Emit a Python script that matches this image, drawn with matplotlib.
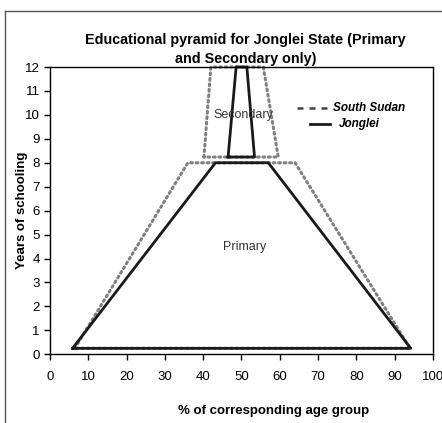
import matplotlib
matplotlib.use('Agg')
import matplotlib.pyplot as plt
from matplotlib.lines import Line2D

plt.rcParams['font.family'] = ['Liberation Sans', 'DejaVu Sans']

# Контуры пирамиды (x - % возрастной группы, y - годы обучения)
ss_primary_x = [6.5, 36, 64, 94, 6.5]
ss_primary_y = [0.25, 8, 8, 0.25, 0.25]
ss_secondary_x = [40.2, 42, 55.7, 59.6, 40.2]
ss_secondary_y = [8.24, 12, 12, 8.24, 8.24]

jg_primary_x = [5.9, 43.2, 57, 94.2, 5.9]
jg_primary_y = [0.25, 8, 8, 0.25, 0.25]
jg_secondary_x = [46.5, 48.6, 51.4, 53.4, 46.5]
jg_secondary_y = [8.24, 12, 12, 8.24, 8.24]

series_names = ['South Sudan', 'Jonglei']

fig = plt.figure(figsize=(4.42, 4.23), dpi=100)
ax = fig.add_axes([0.1131, 0.1624, 0.8665, 0.6792])

# South Sudan - серый пунктир
dots = (0, (0.6, 1.2))
ax.plot(ss_primary_x, ss_primary_y, color='#808080', lw=2.2,
        linestyle=dots, dash_capstyle='round', clip_on=False)
ax.plot(ss_secondary_x, ss_secondary_y, color='#808080', lw=2.2,
        linestyle=dots, dash_capstyle='round', clip_on=False)

# Jonglei - сплошная черная
ax.plot(jg_primary_x, jg_primary_y, color='#1a1a1a', lw=2, clip_on=False)
ax.plot(jg_secondary_x, jg_secondary_y, color='#1a1a1a', lw=2, clip_on=False)

ax.text(50.4, 10.0, 'Secondary', ha='center', va='center', fontsize=9, color='#333333')
ax.text(50.7, 4.5, 'Primary', ha='center', va='center', fontsize=9, color='#333333')

# легенда вручную (как в исходной картинке)
ax.add_line(Line2D([0.645, 0.731], [0.857, 0.857], transform=ax.transAxes,
                   color='#444444', lw=1.8, linestyle=(0, (2.4, 2.4))))
ax.text(0.738, 0.857, series_names[0], transform=ax.transAxes, va='center',
        fontsize=8.5, fontweight='bold', style='italic')
ax.add_line(Line2D([0.679, 0.731], [0.801, 0.801], transform=ax.transAxes,
                   color='#1a1a1a', lw=2))
ax.text(0.755, 0.801, series_names[1], transform=ax.transAxes, va='center',
        fontsize=8.5, fontweight='bold', style='italic')

ax.set_xlim(0, 100)
ax.set_ylim(0, 12)
ax.set_xticks(range(0, 101, 10))
ax.set_yticks(range(0, 13))
ax.tick_params(direction='out', length=4, labelsize=9.5, width=1)
ax.tick_params(axis='x', pad=8)
for s in ax.spines.values():
    s.set_linewidth(1)

ax.set_title('Educational pyramid for Jonglei State (Primary\nand Secondary only)',
             fontsize=10.4, fontweight='bold', pad=3, x=0.51, linespacing=1.45)
ax.set_ylabel('Years of schooling', fontsize=9.5, fontweight='bold')
ax.yaxis.set_label_coords(-0.058, 0.5)
ax.set_xlabel('% of corresponding age group', fontsize=9.5, fontweight='bold')
ax.xaxis.set_label_coords(0.585, -0.178)

# рамка вокруг рисунка
fig.add_artist(Line2D([5 / 442, 5 / 442], [0, 1 - 11 / 423], color='#555555', lw=1))
fig.add_artist(Line2D([5 / 442, 1], [1 - 11 / 423, 1 - 11 / 423], color='#555555', lw=1))

fig.savefig('out.png', dpi=100)
